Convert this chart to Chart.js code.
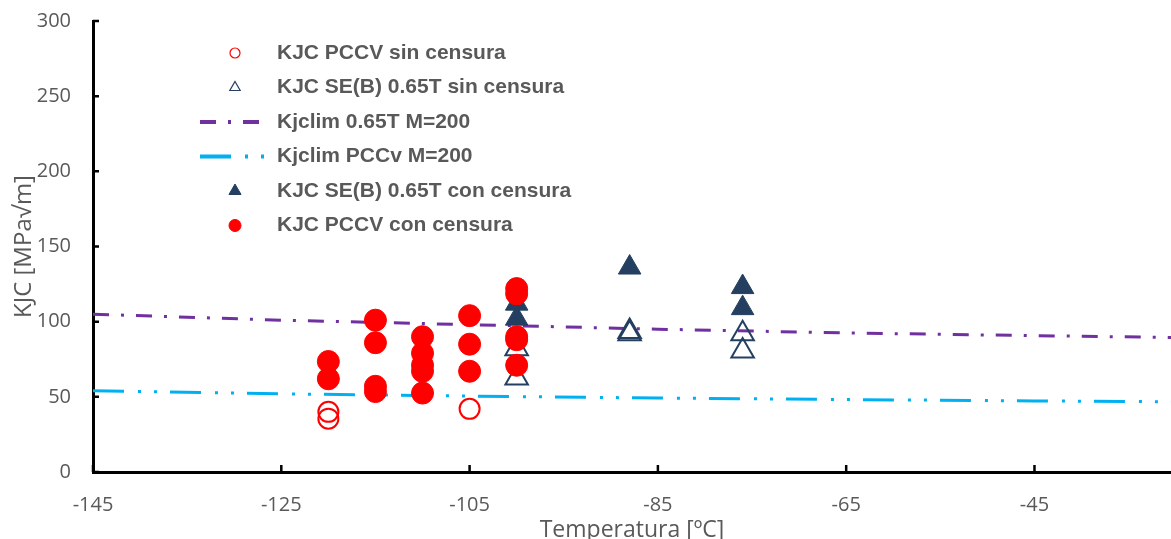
<!DOCTYPE html>
<html>
<head>
<meta charset="utf-8">
<script src="https://cdn.jsdelivr.net/npm/chart.js@4.4.0/dist/chart.umd.min.js"></script>
<style>
  html, body { margin: 0; padding: 0; background: #fff; overflow: hidden; }
  canvas { display: block; }
</style>
</head>
<body>
<canvas id="kjcChart" width="1171" height="539"></canvas>
<script>
// Axis ticks
const tempTicks = [-145, -125, -105, -85, -65, -45];
const kjcTicks = [0, 50, 100, 150, 200, 250, 300];

// KJC PCCV sin censura (open circles)
const pccvSinTemp = [-120, -120, -105];
const pccvSinKjc = [40, 35.5, 42];

// KJC SE(B) 0.65T sin censura (open triangles)
const sebSinTemp = [-100, -100, -88, -88, -76, -76];
const sebSinKjc = [82, 62.5, 93.5, 92, 92, 80.5];

// Kjclim curves
const limTemp = [-145, -125, -105, -85, -65, -45, -30.5];
const lim065Kjc = [105, 101, 98, 95, 92.5, 90.7, 89.5];
const limPccvKjc = [54, 52, 50.5, 49.2, 48.2, 47.3, 46.7];

// KJC SE(B) 0.65T con censura (filled triangles)
const sebConTemp = [-100, -100, -88, -76, -76];
const sebConKjc = [112, 102, 136, 123, 109];

// KJC PCCV con censura (filled circles)
const pccvConTemp = [-120, -120, -115, -115, -115, -115, -110, -110, -110, -110, -110, -105, -105, -105, -100, -100, -100, -100, -100];
const pccvConKjc = [73.5, 62, 101, 86, 57, 53.5, 90, 79, 71, 67, 52.5, 104, 85, 67, 122, 118.5, 90, 88, 71];

const pts = (xs, ys) => xs.map((x, i) => ({ x: x, y: ys[i] }));

const navy = '#243F60';
const red = '#FF0000';
const grey = '#595959';

const datasets = [
    {
        label: 'KJC PCCV sin censura',
        data: pts(pccvSinTemp, pccvSinKjc),
        pointStyle: 'circle', pointRadius: 10, borderWidth: 2,
        borderColor: red, backgroundColor: 'rgba(0,0,0,0)',
        order: 3, legendRadius: 5, legendBorder: 1.2
    },
    {
        label: 'KJC SE(B) 0.65T sin censura',
        data: pts(sebSinTemp, sebSinKjc),
        pointStyle: 'triangle', pointRadius: 13, borderWidth: 2,
        borderColor: navy, backgroundColor: 'rgba(0,0,0,0)',
        order: 4, legendRadius: 6, legendBorder: 1.2
    },
    {
        label: 'Kjclim 0.65T M=200',
        data: pts(limTemp, lim065Kjc),
        showLine: true, pointRadius: 0, borderWidth: 3,
        borderColor: '#7030A0', borderDash: [16, 12, 3, 12],
        order: 5
    },
    {
        label: 'Kjclim PCCv M=200',
        data: pts(limTemp, limPccvKjc),
        showLine: true, pointRadius: 0, borderWidth: 3,
        borderColor: '#00B0F0', borderDash: [31, 14, 3, 13, 3, 13],
        order: 6
    },
    {
        label: 'KJC SE(B) 0.65T con censura',
        data: pts(sebConTemp, sebConKjc),
        pointStyle: 'triangle', pointRadius: 13, borderWidth: 1,
        borderColor: navy, backgroundColor: navy,
        order: 2, legendRadius: 7, legendBorder: 1
    },
    {
        label: 'KJC PCCV con censura',
        data: pts(pccvConTemp, pccvConKjc),
        pointStyle: 'circle', pointRadius: 11, borderWidth: 1,
        borderColor: red, backgroundColor: red,
        order: 1, legendRadius: 6, legendBorder: 1
    }
];

// legend drawn inside the plot area, like the original
const insideLegend = {
    id: 'insideLegend',
    afterDraw(chart) {
        const ctx = chart.ctx;
        ctx.save();
        chart.data.datasets.forEach((ds, i) => {
            const y = 53 + i * 34.5;
            if (ds.showLine) {
                ctx.strokeStyle = ds.borderColor;
                ctx.lineWidth = ds.borderWidth + 1;
                ctx.setLineDash(ds.borderDash);
                ctx.beginPath();
                ctx.moveTo(200, y);
                ctx.lineTo(264, y);
                ctx.stroke();
                ctx.setLineDash([]);
            } else {
                ctx.strokeStyle = ds.borderColor;
                ctx.fillStyle = ds.backgroundColor;
                ctx.lineWidth = ds.legendBorder;
                Chart.helpers.drawPoint(ctx, {
                    pointStyle: ds.pointStyle, radius: ds.legendRadius,
                    borderWidth: ds.legendBorder, rotation: 0
                }, 235, y);
            }
            ctx.fillStyle = grey;
            ctx.font = 'bold 21px "Liberation Sans", Arial, sans-serif';
            ctx.textBaseline = 'middle';
            ctx.textAlign = 'left';
            ctx.fillText(ds.label, 277, y);
        });
        ctx.restore();
    }
};

// small tick marks pointing into the plot, as in Excel
const innerTicks = {
    id: 'innerTicks',
    afterDatasetsDraw(chart) {
        const ctx = chart.ctx;
        const xs = chart.scales.x, ys = chart.scales.y;
        ctx.save();
        ctx.strokeStyle = '#000';
        ctx.lineWidth = 2.5;
        ctx.beginPath();
        kjcTicks.forEach(v => {
            const py = ys.getPixelForValue(v);
            ctx.moveTo(xs.left, py);
            ctx.lineTo(xs.left + 6, py);
        });
        tempTicks.forEach(v => {
            const px = xs.getPixelForValue(v);
            ctx.moveTo(px, ys.bottom);
            ctx.lineTo(px, ys.bottom - 7);
        });
        ctx.stroke();
        ctx.restore();
    }
};

new Chart(document.getElementById('kjcChart'), {
    type: 'scatter',
    data: { datasets: datasets },
    plugins: [insideLegend, innerTicks],
    options: {
        responsive: false,
        animation: false,
        devicePixelRatio: 1,
        events: [],
        layout: { autoPadding: false, padding: { top: 21, right: 0, left: 0, bottom: 0 } },
        plugins: { legend: { display: false }, tooltip: { enabled: false } },
        scales: {
            x: {
                type: 'linear',
                min: -145,
                max: -30.5,
                afterBuildTicks: scale => { scale.ticks = tempTicks.map(v => ({ value: v })); },
                afterFit: scale => {
                    scale.height = 67;
                    scale.paddingLeft = 0;
                    scale.paddingRight = 0;
                },
                grid: { display: true, drawOnChartArea: false, drawTicks: false },
                border: { display: true, color: '#000', width: 3 },
                ticks: {
                    color: grey, padding: 21, maxRotation: 0,
                    font: { family: '"Open Sans", sans-serif', size: 20 }
                },
                title: {
                    display: true, text: 'Temperatura [ºC]', color: grey,
                    padding: { top: 0, bottom: -3 },
                    font: { family: '"Open Sans", sans-serif', size: 23, lineHeight: 1.0 }
                }
            },
            y: {
                min: 0,
                max: 300,
                afterBuildTicks: scale => { scale.ticks = kjcTicks.map(v => ({ value: v })); },
                afterFit: scale => {
                    scale.width = 93;
                    scale.paddingTop = 0;
                    scale.paddingBottom = 0;
                },
                grid: { display: true, drawOnChartArea: false, drawTicks: false },
                border: { display: true, color: '#000', width: 3 },
                ticks: {
                    color: grey, padding: 22,
                    font: { family: '"Open Sans", sans-serif', size: 20 }
                },
                title: {
                    display: true, text: 'KJC [MPa√m]', color: grey,
                    padding: { top: 10, bottom: 0 },
                    font: { family: '"Open Sans", sans-serif', size: 24 }
                }
            }
        }
    }
});
</script>
</body>
</html>
